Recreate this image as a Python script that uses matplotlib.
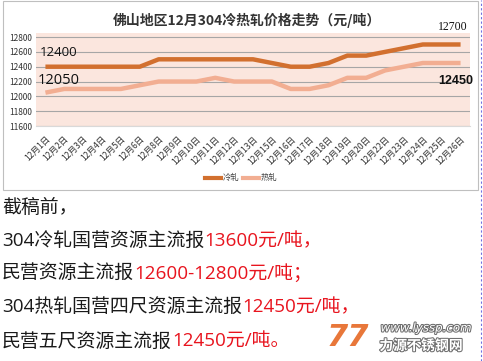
import matplotlib
matplotlib.use("Agg")
import matplotlib.pyplot as plt
import matplotlib.patheffects as pe
from matplotlib.patches import Rectangle
from matplotlib.lines import Line2D

plt.rcParams['font.family'] = ['Noto Sans CJK SC', 'DejaVu Sans']

days = ["1", "2", "3", "4", "5", "6", "8", "9", "10", "11", "12", "13",
        "15", "16", "17", "18", "19", "20", "22", "23", "24", "25", "26"]
categories = [f"12月{d}日" for d in days]
cold = [12400, 12400, 12400, 12400, 12400, 12400, 12500, 12500, 12500, 12500, 12500, 12500,
        12450, 12400, 12400, 12450, 12550, 12550, 12600, 12650, 12700, 12700, 12700]
hot = [12050, 12100, 12100, 12100, 12100, 12150, 12200, 12200, 12200, 12250, 12200, 12200,
       12200, 12100, 12100, 12150, 12250, 12250, 12350, 12400, 12450, 12450, 12450]
yticks = [11600, 11800, 12000, 12200, 12400, 12600, 12800]
title = "佛山地区12月304冷热轧价格走势（元/吨）"
series_names = ["冷轧", "热轧"]

W, H = 483, 361
fig = plt.figure(figsize=(W / 100, H / 100), dpi=100)

def fx(px):
    return px / W

def fy(py):
    return 1 - py / H

# chart border
fig.add_artist(Rectangle((fx(3), fy(190)), fx(478) - fx(3), fy(0.5) - fy(190),
                         transform=fig.transFigure, fill=False, edgecolor="#BFBFBF", lw=0.8))
# blue dashed line on right
fig.add_artist(Line2D([fx(481), fx(481)], [0, 1], transform=fig.transFigure,
                      color="#6F6FE0", lw=0.8, ls=(0, (2, 2))))

ax = fig.add_axes([fx(36), fy(126), fx(470) - fx(36), fy(33) - fy(126)])
ax.set_facecolor("#FBE6DE")
x = list(range(len(categories)))
ax.plot(x, cold, color="#D2702F", lw=3.2, solid_joinstyle="round", solid_capstyle="butt", zorder=3)
ax.plot(x, hot, color="#F2AE92", lw=3.2, solid_joinstyle="round", solid_capstyle="butt", zorder=3)
ax.set_xlim(-0.5, len(categories) - 0.5)
ax.set_ylim(11600, 12855)
ax.set_yticks(yticks)
ax.set_yticklabels([str(v) for v in yticks], fontsize=6, color="#333333")
ax.yaxis.grid(True, color="#A6A6A6", lw=0.8)
ax.set_axisbelow(True)
ax.set_xticks(x)
ax.set_xticklabels(categories, rotation=45, ha="right", va="top", fontsize=6.2,
                   color="#333333", rotation_mode="anchor")
ax.tick_params(axis="both", length=0, pad=3)
ax.tick_params(axis="x", pad=6)
for s in ax.spines.values():
    s.set_visible(False)
ax.spines["bottom"].set_visible(True)
ax.spines["bottom"].set_color("#D9D9D9")

# annotations
fig.text(fx(40), fy(52), "12400", fontsize=9.5, color="#111111", va="center", ha="left",
         family=["Open Sans", "DejaVu Sans"])
fig.text(fx(38), fy(80), "12050", fontsize=10.5, color="#111111", va="center", ha="left",
         family=["Open Sans", "DejaVu Sans"])
fig.text(fx(453), fy(27), "12700", fontsize=8.5, color="#111111", va="center", ha="center",
         family=["Liberation Serif", "DejaVu Serif"])
fig.text(fx(456), fy(81), "12450", fontsize=9, color="#111111", va="center", ha="center",
         fontweight="bold", family=["Liberation Sans", "DejaVu Sans"])

# title
fig.text(fx(247), fy(20), title, fontsize=10, fontweight="bold", color="#333333",
         ha="center", va="center")

# legend
lx, ly = 205, 178
fig.add_artist(Line2D([fx(lx), fx(lx + 16)], [fy(ly), fy(ly)], transform=fig.transFigure,
                      color="#D2702F", lw=3))
fig.text(fx(lx + 18), fy(ly), series_names[0], fontsize=6, color="#444444", va="center")
fig.add_artist(Line2D([fx(lx + 38), fx(lx + 54)], [fy(ly), fy(ly)], transform=fig.transFigure,
                      color="#F2AE92", lw=3))
fig.text(fx(lx + 56), fy(ly), series_names[1], fontsize=6, color="#444444", va="center")

# text lines below
red = "#E8141E"
blk = "#1A1A1A"
fs = 13.6
lines = [
    [("截稿前，", blk)],
    [("304冷轧国营资源主流报", blk), ("13600元/吨，", red)],
    [("民营资源主流报", blk), ("12600-12800元/吨；", red)],
    [("304热轧国营四尺资源主流报", blk), ("12450元/吨，", red)],
    [("民营五尺资源主流报", blk), ("12450元/吨。", red)],
]
ys = [208, 241, 273, 307, 342]
fig.canvas.draw()
renderer = fig.canvas.get_renderer()
for segs, yy in zip(lines, ys):
    xpos = fx(2)
    for txt, col in segs:
        t = fig.text(xpos, fy(yy), txt, fontsize=fs, color=col, va="center", ha="left",
                     family=["Open Sans", "Noto Sans CJK SC"])
        bb = t.get_window_extent(renderer=renderer)
        xpos += bb.width / W

# watermark
fig.text(fx(348), fy(338), "77", fontsize=22, fontweight="bold", style="italic",
         color="#E8773A", ha="center", va="center", family=["DejaVu Sans"])
fig.text(fx(426), fy(328), "www.lyssp.com", fontsize=8.5, style="italic", color="#FFFFFF",
         ha="center", va="center", family=["DejaVu Sans"],
         path_effects=[pe.withStroke(linewidth=1.5, foreground="#6E6E6E")])
fig.text(fx(421), fy(346), "力源不锈钢网", fontsize=10, style="italic", color="#FFFFFF",
         ha="center", va="center", fontweight="bold",
         path_effects=[pe.withStroke(linewidth=1.5, foreground="#6E6E6E")])

fig.savefig("out.png", dpi=100)
